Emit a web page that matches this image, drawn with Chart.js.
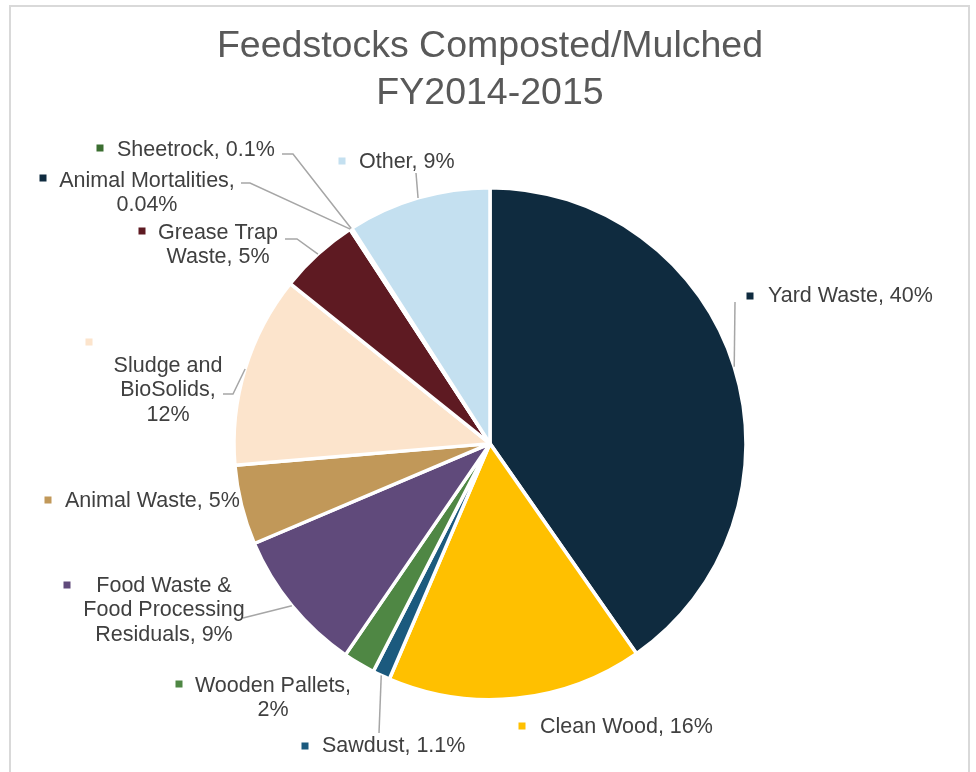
<!DOCTYPE html>
<html>
<head>
<meta charset="utf-8">
<title>Feedstocks Composted/Mulched FY2014-2015</title>
<script src="https://cdn.jsdelivr.net/npm/chart.js@4.4.1/dist/chart.umd.min.js"></script>
<style>
  html, body { margin: 0; padding: 0; background: #fff; }
  canvas { display: block; }
</style>
</head>
<body>
<canvas id="feedChart" width="976" height="772"></canvas>
<script>
// feedstock shares, clockwise from 12 o'clock
const categories = [
    'Yard Waste', 'Clean Wood', 'Sawdust', 'Wooden Pallets',
    'Food Waste & Food Processing Residuals', 'Animal Waste',
    'Sludge and BioSolids', 'Grease Trap Waste', 'Animal Mortalities',
    'Sheetrock', 'Other'
];
const percents = [40, 16, 1.1, 2, 9, 5, 12, 5, 0.04, 0.1, 9];
const sliceColors = [
    '#0f2b3f', '#ffc000', '#1b5a7e', '#4f8744', '#604a7b', '#c19859',
    '#fce4cc', '#5e1a22', '#0f2b3f', '#3b6e30', '#c4e0f0'
];

// where each callout sits: text anchor, legend key, line breaks (after word n), leader path
const labelLayout = [
    { x: 768, y: 296, align: 'left', key: [750, 296], leader: [[735, 302]] },
    { x: 540, y: 727, align: 'left', key: [522, 726] },
    { x: 322, y: 746, align: 'left', key: [305, 746], leader: [[379, 733]] },
    { x: 273, y: 686, align: 'center', key: [179, 684], breaks: [2] },
    { x: 164, y: 586, align: 'center', key: [67, 585], breaks: [3, 5], leader: [[243, 618]] },
    { x: 65, y: 501, align: 'left', key: [48, 500] },
    { x: 168, y: 366, align: 'center', key: [89, 342], breaks: [2, 3], leader: [[223, 394], [233, 394]] },
    { x: 218, y: 233, align: 'center', key: [142, 231], breaks: [2], leader: [[285, 239], [297, 239]] },
    { x: 147, y: 181, align: 'center', key: [43, 178], breaks: [2], leader: [[241, 183], [250, 183]] },
    { x: 117, y: 150, align: 'left', key: [100, 148], leader: [[282, 154], [293, 154]] },
    { x: 359, y: 162, align: 'left', key: [342, 161], leader: [[416, 173]] }
];

const fontFamily = '"Liberation Sans", Arial, sans-serif';

function labelLines(i){
    const words = (categories[i] + ', ' + percents[i] + '%').split(' ');
    const breaks = labelLayout[i].breaks || [];
    const lines = [];
    let start = 0;
    breaks.concat([words.length]).forEach((b)=>{
        lines.push(words.slice(start, b).join(' '));
        start = b;
    });
    return lines;
}

const calloutLabels = {
    id: 'calloutLabels',
    beforeDraw(chart){
        // light frame around the chart
        const ctx = chart.ctx;
        ctx.save();
        ctx.strokeStyle = '#d9d9d9';
        ctx.lineWidth = 2;
        ctx.beginPath();
        ctx.moveTo(10, 772);
        ctx.lineTo(10, 6);
        ctx.lineTo(969, 6);
        ctx.lineTo(969, 772);
        ctx.stroke();
        ctx.restore();
    },
    afterDatasetsDraw(chart){
        const ctx = chart.ctx;
        const arcs = chart.getDatasetMeta(0).data;
        ctx.save();
        arcs.forEach((arc, i)=>{
            const lay = labelLayout[i];
            const p = arc.getProps(['x', 'y', 'startAngle', 'endAngle', 'outerRadius'], true);
            const mid = (p.startAngle + p.endAngle) / 2;
            const ex = p.x + Math.cos(mid) * p.outerRadius;
            const ey = p.y + Math.sin(mid) * p.outerRadius;

            if(lay.leader){
                ctx.strokeStyle = '#a6a6a6';
                ctx.lineWidth = 1.5;
                ctx.beginPath();
                ctx.moveTo(lay.leader[0][0], lay.leader[0][1]);
                lay.leader.slice(1).forEach((pt)=>ctx.lineTo(pt[0], pt[1]));
                ctx.lineTo(ex, ey);
                ctx.stroke();
            }

            ctx.fillStyle = sliceColors[i];
            ctx.fillRect(lay.key[0] - 3.5, lay.key[1] - 3.5, 7, 7);

            ctx.fillStyle = '#404040';
            ctx.font = '21.5px ' + fontFamily;
            ctx.textAlign = lay.align;
            ctx.textBaseline = 'middle';
            labelLines(i).forEach((t, j)=>ctx.fillText(t, lay.x, lay.y + j * 24.5));
        });
        ctx.restore();
    }
};

const ctx = document.getElementById('feedChart').getContext('2d');
const feedChart = new Chart(ctx, {
    type: 'pie',
    data: {
        labels: categories,
        datasets: [{
            data: percents,
            backgroundColor: sliceColors,
            borderColor: '#ffffff',
            borderWidth: 3.5
        }]
    },
    options: {
        responsive: false,
        devicePixelRatio: 1,
        animation: false,
        events: [],
        radius: 256,
        layout: {
            padding: { left: 4, right: 0, top: 0, bottom: 72 }
        },
        plugins: {
            legend: { display: false },
            tooltip: { enabled: false },
            title: {
                display: true,
                text: ['Feedstocks Composted/Mulched', 'FY2014-2015'],
                color: '#595959',
                font: { family: fontFamily, size: 37.5, weight: 'normal', lineHeight: 1.23 },
                padding: { top: 24, bottom: 71 }
            }
        }
    },
    plugins: [calloutLabels]
});
</script>
</body>
</html>
